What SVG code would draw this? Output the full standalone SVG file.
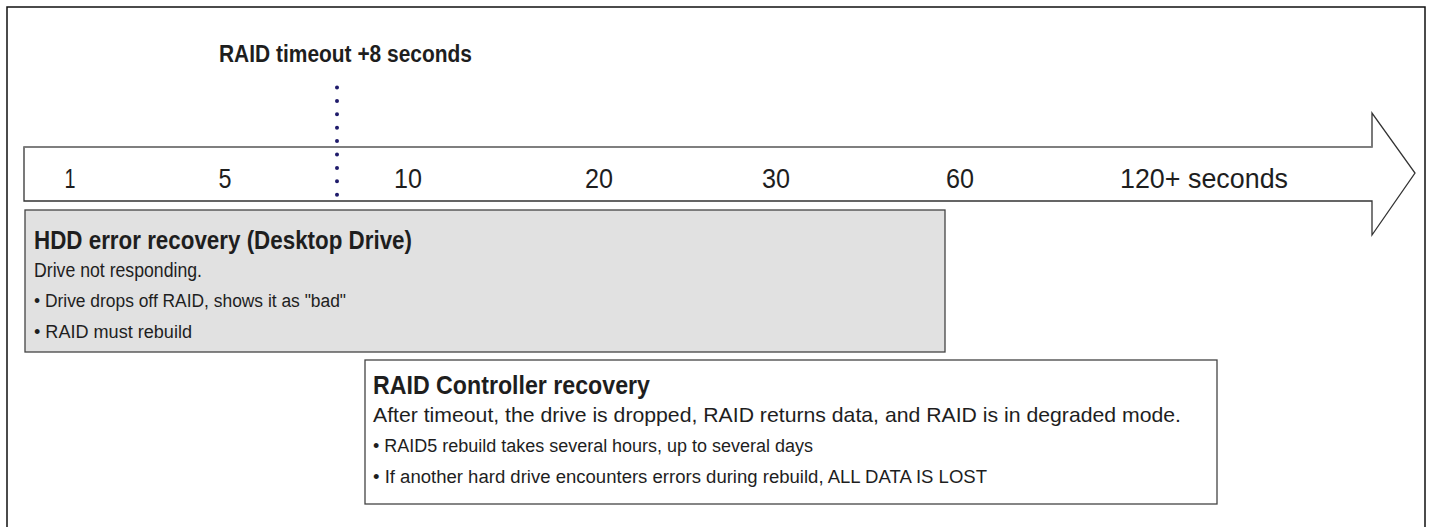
<svg xmlns="http://www.w3.org/2000/svg" width="1431" height="527" viewBox="0 0 1431 527">
<style>
text{font-family:"Liberation Sans",Arial,sans-serif;fill:#1e1e1e}
.b{font-weight:bold}
.num{font-size:28px;text-anchor:middle}
.t{font-size:26px;font-weight:bold}
.n{font-size:21px}
.s{font-size:18px}
</style>
<rect width="1431" height="527" fill="#fff"/>
<path d="M7 527 V7 H1425 V527" fill="none" stroke="#111" stroke-width="1.5"/>
<g id="timeline">
<path d="M24 147 H1372 V113 L1415 173 L1372 235 V201 H24 Z" fill="#fff" stroke="#333" stroke-width="1.3"/>
<line x1="24" y1="147" x2="1372" y2="147" stroke="#888" stroke-width="1.5"/>
<text class="num" x="70" y="188" textLength="11" lengthAdjust="spacingAndGlyphs">1</text>
<text class="num" x="225" y="188" textLength="13" lengthAdjust="spacingAndGlyphs">5</text>
<text class="num" x="408" y="188" textLength="28" lengthAdjust="spacingAndGlyphs">10</text>
<text class="num" x="599" y="188" textLength="28" lengthAdjust="spacingAndGlyphs">20</text>
<text class="num" x="776" y="188" textLength="28" lengthAdjust="spacingAndGlyphs">30</text>
<text class="num" x="960" y="188" textLength="28" lengthAdjust="spacingAndGlyphs">60</text>
<text class="num" x="1204" y="188" textLength="168" lengthAdjust="spacingAndGlyphs">120+ seconds</text>
</g>
<g id="timeout">
<text x="219" y="62" font-size="23" class="b" textLength="253" lengthAdjust="spacingAndGlyphs">RAID timeout +8 seconds</text>
<line x1="337" y1="87.5" x2="337" y2="195" stroke="#1f1b6b" stroke-width="4" stroke-linecap="round" stroke-dasharray="0 13.4"/>
</g>
<g id="hdd">
<rect x="25" y="210" width="920" height="142" fill="#e1e1e1" stroke="#444" stroke-width="1.3"/>
<text class="t" x="34" y="249" textLength="378" lengthAdjust="spacingAndGlyphs">HDD error recovery (Desktop Drive)</text>
<text class="n" x="34" y="277" textLength="168" lengthAdjust="spacingAndGlyphs">Drive not responding.</text>
<text class="s" x="34" y="307" textLength="312" lengthAdjust="spacingAndGlyphs">• Drive drops off RAID, shows it as "bad"</text>
<text class="s" x="34" y="338" textLength="158" lengthAdjust="spacingAndGlyphs">• RAID must rebuild</text>
</g>
<g id="raid">
<rect x="365" y="360" width="852" height="144" fill="#fff" stroke="#444" stroke-width="1.3"/>
<text class="t" x="373" y="394" textLength="277" lengthAdjust="spacingAndGlyphs">RAID Controller recovery</text>
<text class="n" x="373" y="422" textLength="808" lengthAdjust="spacingAndGlyphs">After timeout, the drive is dropped, RAID returns data, and RAID is in degraded mode.</text>
<text class="s" x="373" y="452" textLength="440" lengthAdjust="spacingAndGlyphs">• RAID5 rebuild takes several hours, up to several days</text>
<text class="s" x="373" y="483" textLength="614" lengthAdjust="spacingAndGlyphs">• If another hard drive encounters errors during rebuild, ALL DATA IS LOST</text>
</g>
</svg>
